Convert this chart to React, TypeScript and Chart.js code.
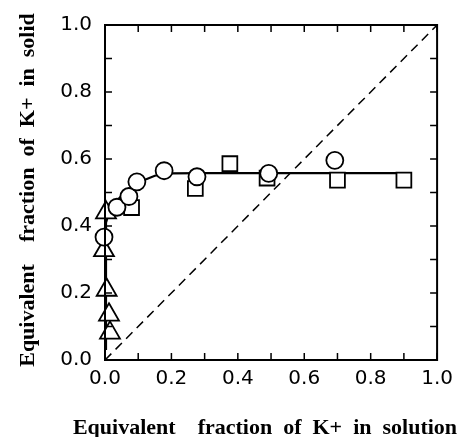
import React, { useEffect, useRef } from "react";
import { Chart, registerables } from "chart.js";

Chart.register(...registerables);

// Data
const circleX = [-0.003, 0.036, 0.072, 0.096, 0.178, 0.277, 0.493, 0.692];
const circleY = [0.367, 0.456, 0.488, 0.532, 0.565, 0.547, 0.557, 0.596];
const squareX = [0.08, 0.272, 0.376, 0.488, 0.70, 0.90];
const squareY = [0.455, 0.512, 0.586, 0.543, 0.537, 0.537];
const triangleX = [0.015, 0.012, 0.005, -0.003, 0.003];
const triangleY = [0.081, 0.135, 0.209, 0.327, 0.44];
const fitX = [0.003, 0.003, 0.012, 0.03, 0.06, 0.1, 0.15, 0.2, 0.3, 0.5, 0.9];
const fitY = [0.03, 0.41, 0.44, 0.47, 0.5, 0.53, 0.55, 0.557, 0.558, 0.558, 0.558];
const diagX = [0.0, 1.0];
const diagY = [0.0, 1.0];
const tickValues = [0, 0.1, 0.2, 0.3, 0.4, 0.5, 0.6, 0.7, 0.8, 0.9, 1.0];
const xTitle = "Equivalent    fraction  of  K+  in  solution";
const yTitle = "Equivalent    fraction  of  K+  in  solid";

const pts = (xs: number[], ys: number[]) => xs.map((x, i) => ({ x, y: ys[i] }));

const framePlugin = {
  id: "frameTicks",
  afterDatasetsDraw(chart: any) {
    const { ctx, chartArea, scales } = chart;
    const { left, right, top, bottom } = chartArea;
    ctx.save();
    ctx.strokeStyle = "#000";
    ctx.lineWidth = 2;
    ctx.setLineDash([]);
    ctx.strokeRect(left, top, right - left, bottom - top);
    ctx.lineWidth = 1.5;
    const len = 7;
    ctx.beginPath();
    tickValues.forEach((v) => {
      const px = scales.x.getPixelForValue(v);
      const py = scales.y.getPixelForValue(v);
      ctx.moveTo(px, bottom);
      ctx.lineTo(px, bottom - len);
      ctx.moveTo(px, top);
      ctx.lineTo(px, top + len);
      ctx.moveTo(left, py);
      ctx.lineTo(left + len, py);
      ctx.moveTo(right, py);
      ctx.lineTo(right - len, py);
    });
    ctx.stroke();
    ctx.restore();
  },
  afterDraw(chart: any) {
    // Axis titles wider than the plot area, drawn without Chart.js' maxWidth squeeze
    const { ctx } = chart;
    ctx.save();
    ctx.fillStyle = "#000";
    ctx.font = "bold 22px 'Liberation Serif'";
    ctx.textAlign = "center";
    ctx.textBaseline = "alphabetic";
    ctx.fillText(xTitle, 265, 434);
    ctx.translate(34, 190);
    ctx.rotate(-Math.PI / 2);
    ctx.fillText(yTitle, 0, 0);
    ctx.restore();
  },
};

export default function App() {
  const ref = useRef<HTMLCanvasElement | null>(null);

  useEffect(() => {
    document.body.style.margin = "0";
    const canvas = ref.current;
    if (!canvas) return;
    const markerCommon = {
      showLine: false,
      backgroundColor: "#fff",
      borderColor: "#000",
      borderWidth: 1.8,
      clip: false as any,
    };
    const tickFont = { family: "DejaVu Sans", size: 20 };
    const chart = new Chart(canvas, {
      type: "scatter",
      data: {
        datasets: [
          {
            label: "circles",
            data: pts(circleX, circleY),
            pointStyle: "circle",
            pointRadius: 8.5,
            ...markerCommon,
          },
          {
            label: "squares",
            data: pts(squareX, squareY),
            pointStyle: "rect",
            pointRadius: 10.5,
            ...markerCommon,
          },
          {
            label: "triangles",
            data: pts(triangleX, triangleY),
            pointStyle: "triangle",
            pointRadius: 11.5,
            ...markerCommon,
          },
          {
            label: "fit",
            data: pts(fitX, fitY),
            showLine: true,
            borderColor: "#000",
            borderWidth: 2.2,
            pointRadius: 0,
            clip: false as any,
          },
          {
            label: "diagonal",
            data: pts(diagX, diagY),
            showLine: true,
            borderColor: "#000",
            borderWidth: 1.5,
            borderDash: [9, 6],
            pointRadius: 0,
          },
        ],
      },
      options: {
        responsive: false,
        animation: false,
        events: [],
        layout: { padding: { top: 22, right: 18, left: 0, bottom: 0 } },
        plugins: {
          legend: { display: false },
          tooltip: { enabled: false },
        },
        scales: {
          x: {
            type: "linear",
            min: 0,
            max: 1,
            grid: { display: false, drawTicks: false },
            border: { display: false },
            afterFit: (s: any) => {
              s.height = 77;
            },
            ticks: {
              stepSize: 0.1,
              autoSkip: false,
              maxRotation: 0,
              padding: 7,
              color: "#000",
              font: tickFont,
              callback: (v: any) =>
                Math.round(Number(v) * 10) % 2 === 0 ? Number(v).toFixed(1) : "",
            },
            title: { display: false },
          },
          y: {
            type: "linear",
            min: 0,
            max: 1,
            grid: { display: false, drawTicks: false },
            border: { display: false },
            afterFit: (s: any) => {
              s.width = 105;
            },
            ticks: {
              stepSize: 0.1,
              autoSkip: false,
              padding: 13,
              color: "#000",
              font: tickFont,
              callback: (v: any) =>
                Math.round(Number(v) * 10) % 2 === 0 ? Number(v).toFixed(1) : "",
            },
            title: { display: false },
          },
        },
      },
      plugins: [framePlugin],
    });
    return () => chart.destroy();
  }, []);

  return <canvas ref={ref} width={460} height={437} style={{ display: "block" }} />;
}
